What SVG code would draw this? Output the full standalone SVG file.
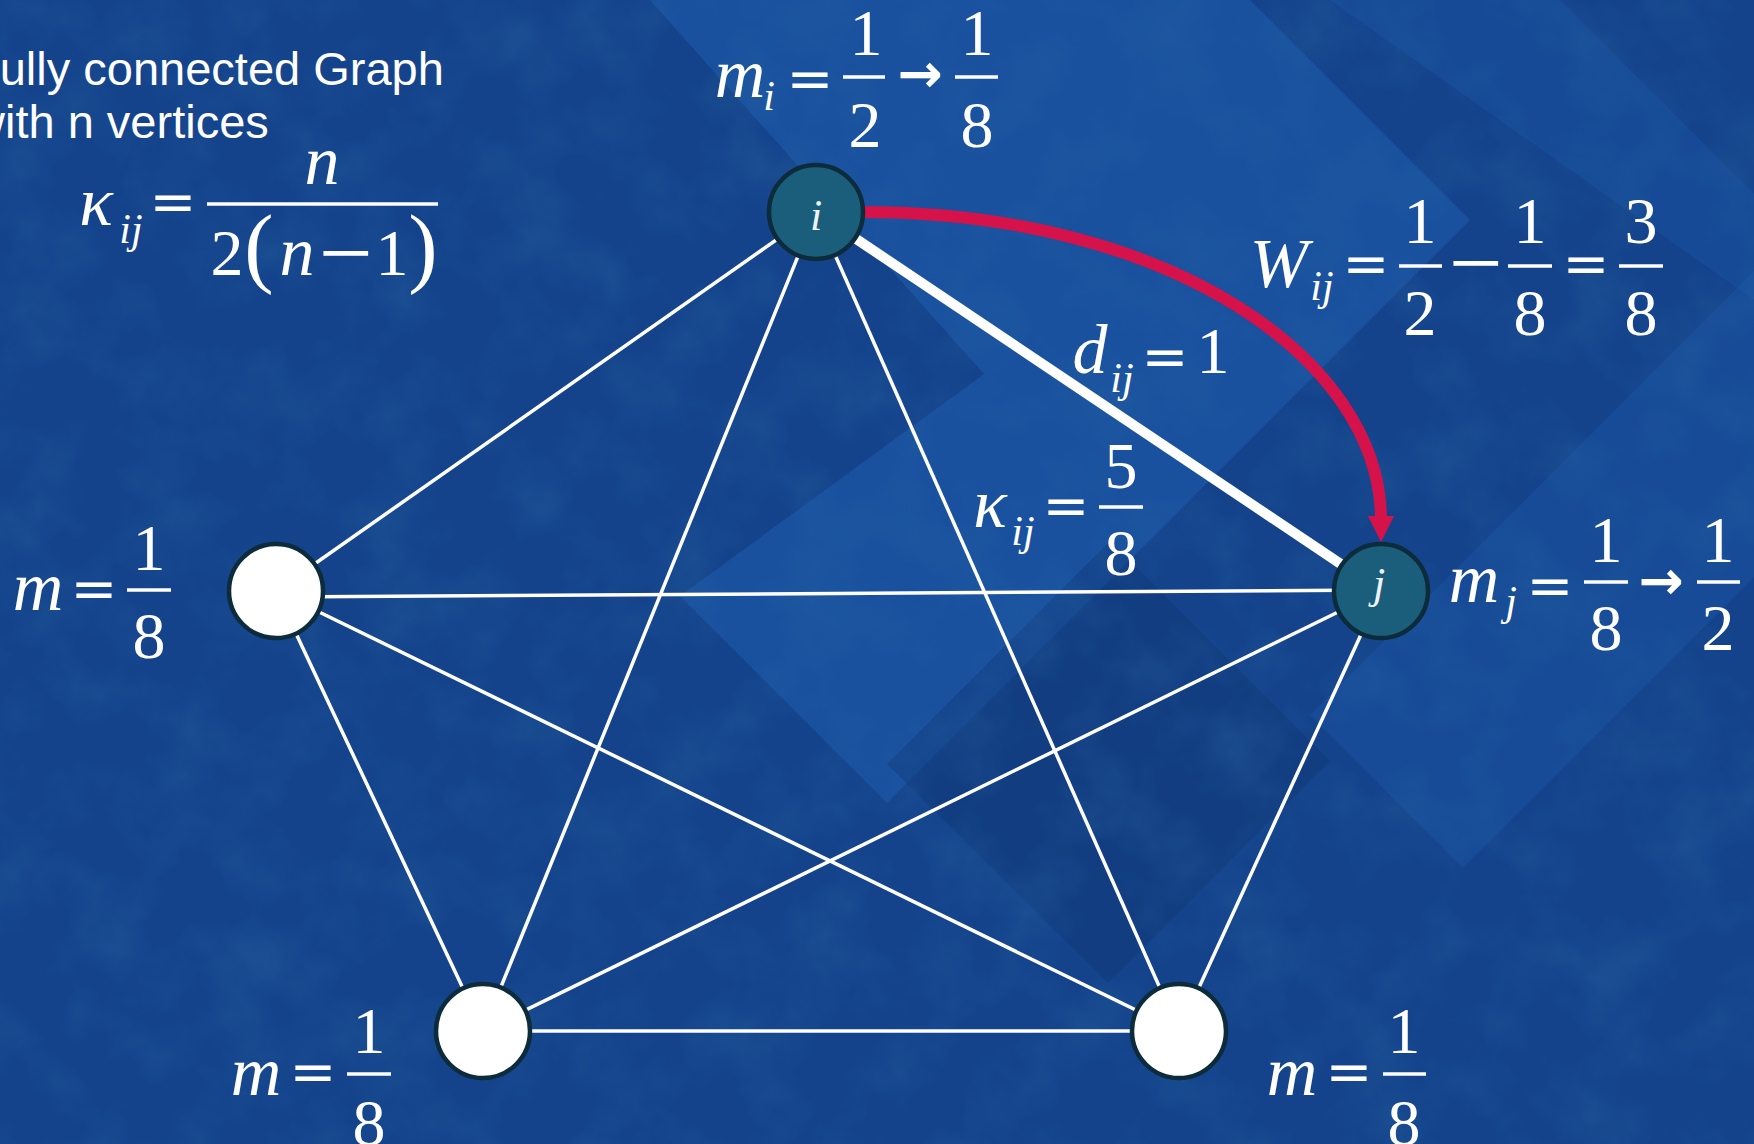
<svg xmlns="http://www.w3.org/2000/svg" width="1754" height="1144" viewBox="0 0 1754 1144">
<defs>
<style>
.e{stroke:#fff;stroke-width:3.5;fill:none;stroke-linecap:butt}
.thick{stroke-width:10}
.nw{fill:#fff;stroke:#0c2b3b;stroke-width:4.5}
.nt{fill:#1a5e7c;stroke:#0c2b3b;stroke-width:4.5}
.v{font-family:"Liberation Serif",serif;font-style:italic;font-size:70px;fill:#fff;text-anchor:middle}
.s{font-family:"Liberation Serif",serif;font-style:italic;font-size:42px;fill:#fff;text-anchor:middle}
.d{font-family:"Liberation Serif",serif;font-size:66px;fill:#fff;text-anchor:middle}
.op{font-family:"DejaVu Serif",serif;font-size:56px;fill:#fff;text-anchor:middle}
.mn{font-family:"Liberation Sans",sans-serif;font-size:68px;fill:#fff;text-anchor:middle}
.bar{stroke:#fff;stroke-width:3.5}
.ar{font-family:"DejaVu Sans",sans-serif;font-weight:bold;font-size:54px;fill:#fff;text-anchor:middle}
.t{font-family:"Liberation Sans",Arial,sans-serif;font-size:47px;fill:#fff}
.nl{font-family:"Liberation Serif",serif;font-style:italic;font-size:44px;fill:#eef4f8;text-anchor:middle}
.lt{fill:#1d5cae}
.dk{fill:#0f3474}
</style>
<marker id="ah" viewBox="0 0 26 26" markerWidth="26" markerHeight="26" markerUnits="userSpaceOnUse" refX="4" refY="13" orient="auto">
<path d="M0,0 L26,13 L0,26 z" fill="#d6124a"/>
</marker>
<filter id="grunge" x="0" y="0" width="100%" height="100%">
<feTurbulence type="fractalNoise" baseFrequency="0.014" numOctaves="4" seed="7"/>
<feColorMatrix type="matrix" values="0 0 0 0 0.02  0 0 0 0 0.12  0 0 0 0 0.35  1.6 0 0 0 -0.65"/>
</filter>
</defs>

<g id="background">
<rect width="1754" height="1144" fill="#14438b"/>
<polygon class="lt" opacity="0.6" points="650,0 1250,0 1470,220 887,803 680,596 984,374"/>
<polygon class="lt" opacity="0.35" points="1310,715 1754,271 1754,577 1463,868"/>
<polygon class="lt" opacity="0.3" points="1330,0 1560,0 1754,194 1754,300"/>
<polygon class="dk" opacity="0.4" points="887,764 1110,541 1330,761 1108,983"/>
<rect width="1754" height="1144" filter="url(#grunge)" opacity="0.5"/>
</g>

<g id="connectors">
<line class="e" x1="816" y1="212" x2="276" y2="591"/>
<line class="e" x1="816" y1="212" x2="483" y2="1031"/>
<line class="e" x1="816" y1="212" x2="1179" y2="1031"/>
<line class="e thick" x1="816" y1="212" x2="1381" y2="591"/>
<line class="e" x1="276" y1="597" x2="1381" y2="590"/>
<line class="e" x1="276" y1="591" x2="483" y2="1031"/>
<line class="e" x1="276" y1="591" x2="1179" y2="1031"/>
<line class="e" x1="1381" y1="591" x2="483" y2="1031"/>
<line class="e" x1="1381" y1="591" x2="1179" y2="1031"/>
<line class="e" x1="483" y1="1031" x2="1179" y2="1031"/>
<path id="transfer" d="M862,212 C1170,212 1381,360 1381,520" fill="none" stroke="#d6124a" stroke-width="12" marker-end="url(#ah)"/>
</g>

<g id="node-i"><circle class="nt" cx="816" cy="212" r="47"/><text class="nl" x="816" y="230">i</text></g>
<g id="node-j"><circle class="nt" cx="1381" cy="591" r="47"/><text class="nl" x="1379" y="598">j</text></g>
<g id="node-left"><circle class="nw" cx="276" cy="591" r="47"/></g>
<g id="node-bottom-left"><circle class="nw" cx="483" cy="1031" r="47"/></g>
<g id="node-bottom-right"><circle class="nw" cx="1179" cy="1031" r="47"/></g>

<g id="title">
<text class="t" x="-29" y="85">Fully connected Graph</text>
<text class="t" x="-29" y="138">with n vertices</text>
</g>

<g id="formula-kappa">
<text class="v" x="96" y="225">κ</text>
<text class="s" x="131" y="243">ij</text>
<text class="op" x="173" y="221">=</text>
<line class="bar" x1="207" y1="204" x2="438" y2="204"/>
<text class="v" x="322" y="184">n</text>
<text class="d" x="227" y="275">2</text>
<text class="d" x="259" y="276" style="font-size:88px">(</text>
<text class="v" x="297" y="275">n</text>
<text class="mn" transform="translate(346,276) scale(1.35,1)">−</text>
<text class="d" x="392" y="275">1</text>
<text class="d" x="423" y="276" style="font-size:88px">)</text>
</g>

<g id="label-mi">
<text class="v" x="740" y="97">m</text>
<text class="s" x="769" y="110">i</text>
<text class="op" x="810" y="98">=</text>
<line class="bar" x1="843" y1="77" x2="885" y2="77"/>
<text class="d" x="866" y="55">1</text>
<text class="d" x="865" y="147">2</text>
<text class="ar" x="920" y="92">→</text>
<line class="bar" x1="955" y1="77" x2="998" y2="77"/>
<text class="d" x="977" y="55">1</text>
<text class="d" x="977" y="147">8</text>
</g>

<g id="label-W">
<text class="v" x="1279" y="287">W</text>
<text class="s" x="1322" y="300">ij</text>
<text class="op" x="1366" y="283">=</text>
<line class="bar" x1="1399" y1="266" x2="1442" y2="266"/>
<text class="d" x="1420" y="243">1</text>
<text class="d" x="1420" y="335">2</text>
<text class="mn" transform="translate(1476,286) scale(1.35,1)">−</text>
<line class="bar" x1="1508" y1="266" x2="1552" y2="266"/>
<text class="d" x="1530" y="243">1</text>
<text class="d" x="1530" y="335">8</text>
<text class="op" x="1586" y="283">=</text>
<line class="bar" x1="1619" y1="266" x2="1663" y2="266"/>
<text class="d" x="1641" y="243">3</text>
<text class="d" x="1641" y="335">8</text>
</g>

<g id="label-d">
<text class="v" x="1090" y="373">d</text>
<text class="s" x="1122" y="392">ij</text>
<text class="op" x="1165" y="376">=</text>
<text class="d" x="1213" y="373">1</text>
</g>

<g id="label-kappa-ij">
<text class="v" x="990" y="527">κ</text>
<text class="s" x="1023" y="545">ij</text>
<text class="op" x="1066" y="525">=</text>
<line class="bar" x1="1099" y1="507" x2="1143" y2="507"/>
<text class="d" x="1121" y="488">5</text>
<text class="d" x="1121" y="575">8</text>
</g>

<g id="label-mj">
<text class="v" x="1474" y="602">m</text>
<text class="s" x="1511" y="615">j</text>
<text class="op" x="1550" y="605">=</text>
<line class="bar" x1="1584" y1="582" x2="1628" y2="582"/>
<text class="d" x="1606" y="562">1</text>
<text class="d" x="1606" y="650">8</text>
<text class="ar" x="1661" y="599">→</text>
<line class="bar" x1="1697" y1="582" x2="1740" y2="582"/>
<text class="d" x="1718" y="562">1</text>
<text class="d" x="1718" y="650">2</text>
</g>

<g id="label-m-left">
<text class="v" x="38" y="610">m</text>
<text class="op" x="94" y="608">=</text>
<line class="bar" x1="127" y1="590" x2="171" y2="590"/>
<text class="d" x="149" y="570">1</text>
<text class="d" x="149" y="658">8</text>
</g>

<g id="label-m-bottom-left">
<text class="v" x="256" y="1095">m</text>
<text class="op" x="313" y="1091">=</text>
<line class="bar" x1="347" y1="1074" x2="391" y2="1074"/>
<text class="d" x="369" y="1053">1</text>
<text class="d" x="369" y="1145">8</text>
</g>

<g id="label-m-bottom-right">
<text class="v" x="1292" y="1095">m</text>
<text class="op" x="1349" y="1091">=</text>
<line class="bar" x1="1383" y1="1074" x2="1426" y2="1074"/>
<text class="d" x="1404" y="1053">1</text>
<text class="d" x="1404" y="1145">8</text>
</g>
</svg>
